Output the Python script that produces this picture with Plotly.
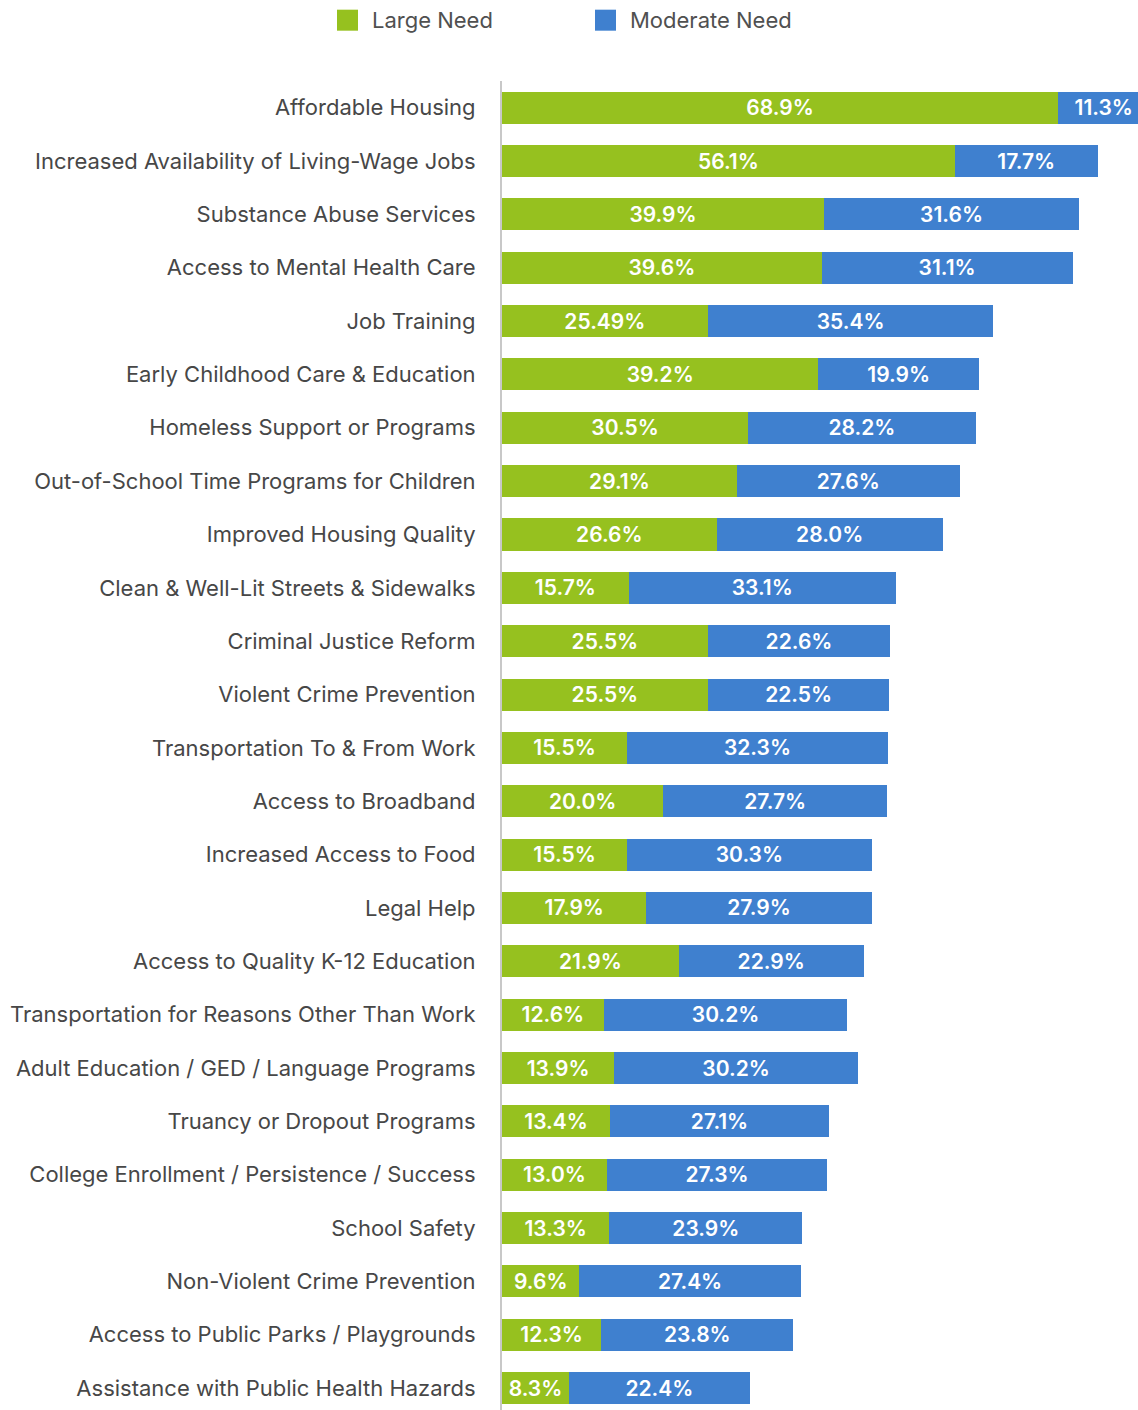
import plotly.graph_objects as go

categories = [
    "Affordable Housing",
    "Increased Availability of Living-Wage Jobs",
    "Substance Abuse Services",
    "Access to Mental Health Care",
    "Job Training",
    "Early Childhood Care & Education",
    "Homeless Support or Programs",
    "Out-of-School Time Programs for Children",
    "Improved Housing Quality",
    "Clean & Well-Lit Streets & Sidewalks",
    "Criminal Justice Reform",
    "Violent Crime Prevention",
    "Transportation To & From Work",
    "Access to Broadband",
    "Increased Access to Food",
    "Legal Help",
    "Access to Quality K-12 Education",
    "Transportation for Reasons Other Than Work",
    "Adult Education / GED / Language Programs",
    "Truancy or Dropout Programs",
    "College Enrollment / Persistence / Success",
    "School Safety",
    "Non-Violent Crime Prevention",
    "Access to Public Parks / Playgrounds",
    "Assistance with Public Health Hazards",
]
large_need = [68.9, 56.1, 39.9, 39.6, 25.49, 39.2, 30.5, 29.1, 26.6, 15.7, 25.5, 25.5, 15.5,
              20.0, 15.5, 17.9, 21.9, 12.6, 13.9, 13.4, 13.0, 13.3, 9.6, 12.3, 8.3]
moderate_need = [11.3, 17.7, 31.6, 31.1, 35.4, 19.9, 28.2, 27.6, 28.0, 33.1, 22.6, 22.5, 32.3,
                 27.7, 30.3, 27.9, 22.9, 30.2, 30.2, 27.1, 27.3, 23.9, 27.4, 23.8, 22.4]
series_names = ["Large Need", "Moderate Need"]

GREEN = "#96C11F"
BLUE = "#3F80CF"
FONT = "Inter"
W, H = 1138, 1410
L, T = 502, 81.3
PW, PH = W - L, H - T

fig = go.Figure()
for name, vals, col in [(series_names[0], large_need, GREEN), (series_names[1], moderate_need, BLUE)]:
    fig.add_trace(go.Bar(
        y=categories, x=vals, name=name, orientation="h",
        marker=dict(color=col, line=dict(width=0)),
        text=[f"{v}%" for v in vals], textposition="inside", insidetextanchor="middle",
        textangle=0,
        textfont=dict(family=FONT, size=21, color="white", weight=600),
        showlegend=False, hoverinfo="skip",
    ))

# legend drawn manually (page pixel coords converted to paper coords)
def px_x(p):
    return (p - L) / PW

def px_y(p):
    return (H - p) / PH

legend_items = [(337, GREEN, series_names[0]), (595, BLUE, series_names[1])]
for x0, col, name in legend_items:
    fig.add_shape(type="rect", xref="paper", yref="paper",
                  x0=px_x(x0), x1=px_x(x0 + 21), y0=px_y(31), y1=px_y(10),
                  fillcolor=col, line=dict(width=0))
    fig.add_annotation(xref="paper", yref="paper", x=px_x(x0 + 33), y=px_y(20.5),
                       text=name, showarrow=False, xanchor="left", yanchor="middle",
                       font=dict(family=FONT, size=22, color="#505050"))

fig.update_layout(
    width=W, height=H, barmode="stack", bargap=0.4,
    margin=dict(l=L, r=0, t=T, b=0),
    paper_bgcolor="white", plot_bgcolor="white",
    xaxis=dict(range=[0, 78.8], visible=False, fixedrange=True),
    yaxis=dict(range=[24.41, -0.5], showline=True, linecolor="#c8c8c8", linewidth=2,
               showgrid=False, ticks="", ticklabelstandoff=20, fixedrange=True,
               tickfont=dict(family=FONT, size=22, color="#474747")),
)
fig.write_html("out.html", config={"displayModeBar": False},
               post_script="document.body.style.margin='0';")
